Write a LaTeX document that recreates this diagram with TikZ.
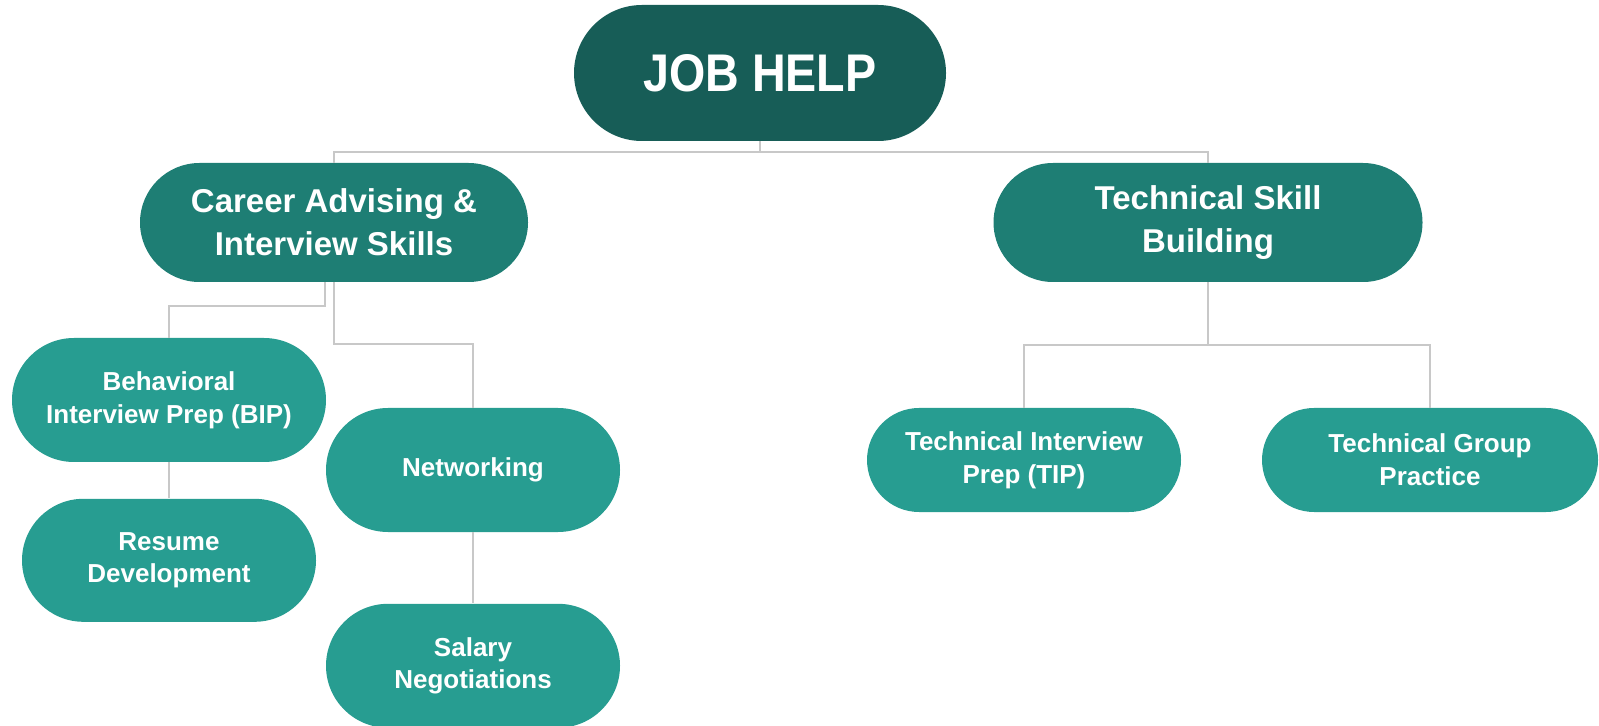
\documentclass[tikz,border=0pt]{standalone}
\usepackage{fontspec}
\setmainfont{Liberation Sans}
\newfontfamily\headfont{Liberation Sans}[FakeStretch=0.88]
\usetikzlibrary{positioning}

\definecolor{rootgreen}{HTML}{175D57}
\definecolor{midgreen}{HTML}{1E7E74}
\definecolor{leafgreen}{HTML}{279D91}
\definecolor{wire}{HTML}{C8C8C8}

\begin{document}
\begin{tikzpicture}[
  x=0.5pt, y=-0.5pt,
  pill/.style 2 args={fill=leafgreen, text=white, align=center, inner sep=0pt,
    minimum width=#1, minimum height=#2, rounded corners=0.5*#2,
    font=\fontsize{13}{16.3}\selectfont\bfseries},
  topic/.style={fill=midgreen, font=\fontsize{16.5}{21.3}\selectfont\bfseries},
  link/.style={draw=wire, line width=1pt}]
\useasboundingbox (0,0) rectangle (1599,726);
\node[pill={186pt}{68pt}, fill=rootgreen, font=\fontsize{26.5}{30}\headfont\bfseries] (job) at (760,73) {JOB HELP};
\node[pill={194pt}{59.5pt}, topic] (career) at (334,222.5) {Career Advising \&\\Interview Skills};
\node[pill={214.5pt}{59.5pt}, topic] (tech) at (1208,222.5) {Technical Skill\\Building};
\node[pill={157pt}{62pt}] (bip) at (169,400) {Behavioral\\Interview Prep (BIP)};
\node[pill={147pt}{61.5pt}, below=18pt of bip] (resume) {Resume\\Development};
\node[pill={147pt}{62pt}] (net) at (473,470) {Networking};
\node[pill={147pt}{62pt}, below=35.5pt of net] (salary) {Salary\\Negotiations};
\node[pill={157pt}{52pt}] (tip) at (1024,460) {Technical Interview\\Prep (TIP)};
\node[pill={168pt}{52pt}] (tgp) at (1430,460) {Technical Group\\Practice};
% tree wiring
\draw[link] (job.south) -- ++(0,11) coordinate (jobbus);
\draw[link] (career.north) |- (jobbus) -| (tech.north);
\draw[link] ([xshift=-4.5pt]career.south) -- ++(0,24) -| (bip.north);
\draw[link] (career.south) -- ++(0,62) -| (net.north);
\draw[link] (bip) -- (resume);
\draw[link] (net) -- (salary);
\draw[link] (tech.south) -- ++(0,63) coordinate (techbus);
\draw[link] (tip.north) |- (techbus) -| (tgp.north);
\end{tikzpicture}
\end{document}
